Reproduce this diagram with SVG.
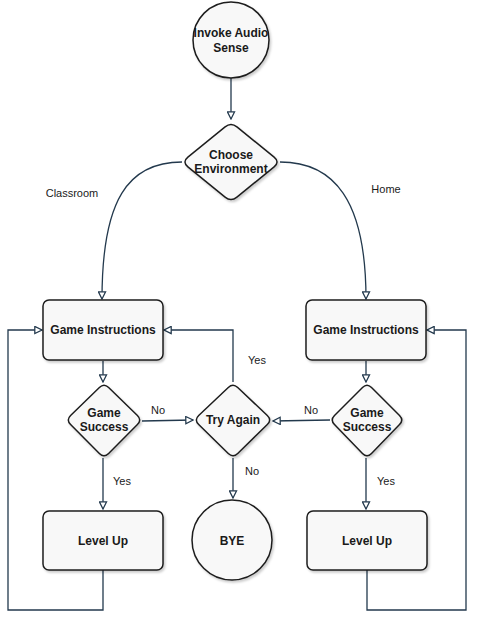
<svg xmlns="http://www.w3.org/2000/svg" width="480" height="624" viewBox="0 0 480 624">
<defs>
<style>
.shape{fill:#f8f8f8;stroke:#1e1e1e;stroke-width:1.5;stroke-linejoin:round;filter:url(#sh)}
.t{font-family:"Liberation Sans",Arial,sans-serif;font-size:12px;font-weight:bold;fill:#1a1a1a;text-anchor:middle}
.lbl{font-family:"Liberation Sans",Arial,sans-serif;font-size:11px;fill:#1a1a1a;text-anchor:middle}
.c{fill:none;stroke:#23394d;stroke-width:1.3}
</style>
<filter id="sh" x="-20%" y="-20%" width="140%" height="140%">
<feDropShadow dx="1.5" dy="2" stdDeviation="1.2" flood-color="#000" flood-opacity="0.2"/>
</filter>
<marker id="ar" viewBox="0 0 10 10" refX="9" refY="5" markerWidth="9" markerHeight="9" markerUnits="userSpaceOnUse" orient="auto">
<path d="M1,1 L9,5 L1,9 Z" fill="#fff" stroke="#23394d" stroke-width="1.4"/>
</marker>
</defs>
<rect width="480" height="624" fill="#fff"/>

<g id="connectors">
<path class="c" d="M231,78 L231,119" marker-end="url(#ar)"/>
<path class="c" d="M182,162 C128,162 102,200 102,299" marker-end="url(#ar)"/>
<path class="c" d="M280,162 C334,162 366,200 366,299" marker-end="url(#ar)"/>
<path class="c" d="M103,361 L103,382" marker-end="url(#ar)"/>
<path class="c" d="M366,361 L366,382" marker-end="url(#ar)"/>
<path class="c" d="M142,421 L193,420" marker-end="url(#ar)"/>
<path class="c" d="M330,420 L273,421" marker-end="url(#ar)"/>
<path class="c" d="M233,382 L233,330 L164,330" marker-end="url(#ar)"/>
<path class="c" d="M233,458 L233,498" marker-end="url(#ar)"/>
<path class="c" d="M103,458 L103,509" marker-end="url(#ar)"/>
<path class="c" d="M366,458 L366,509" marker-end="url(#ar)"/>
<path class="c" d="M103,570 L103,610 L8,610 L8,330 L42,330" marker-end="url(#ar)"/>
<path class="c" d="M367,570 L367,610 L466,610 L466,330 L427,330" marker-end="url(#ar)"/>
</g>

<g id="labels">
<text class="lbl" x="72" y="197">Classroom</text>
<text class="lbl" x="386" y="193">Home</text>
<text class="lbl" x="158" y="414">No</text>
<text class="lbl" x="311" y="414">No</text>
<text class="lbl" x="257" y="364">Yes</text>
<text class="lbl" x="252" y="475">No</text>
<text class="lbl" x="122" y="485">Yes</text>
<text class="lbl" x="386" y="485">Yes</text>
</g>

<g id="invoke">
<circle class="shape" cx="231" cy="40" r="38"/>
<text class="t" x="231" y="37">Invoke Audio</text>
<text class="t" x="231" y="52">Sense</text>
</g>
<g id="choose">
<path class="shape" d="M236.9,126.8 L274.1,157.2 Q280,162 274.1,166.8 L236.9,197.2 Q231,202 225.1,197.2 L187.9,166.8 Q182,162 187.9,157.2 L225.1,126.8 Q231,122 236.9,126.8 Z"/>
<text class="t" x="231" y="159">Choose</text>
<text class="t" x="231" y="173">Environment</text>
</g>
<g id="gi-left">
<rect class="shape" x="43" y="300" width="120" height="60" rx="6"/>
<text class="t" x="103" y="334">Game Instructions</text>
</g>
<g id="gi-right">
<rect class="shape" x="306" y="300" width="120" height="60" rx="6"/>
<text class="t" x="366" y="334">Game Instructions</text>
</g>
<g id="gs-left">
<path class="shape" d="M108.6,387.5 L137.4,415.5 Q142,420 137.4,424.5 L108.6,453.5 Q104,458 99.4,453.5 L70.6,424.5 Q66,420 70.6,415.5 L99.4,387.5 Q104,383 108.6,387.5 Z"/>
<text class="t" x="104" y="417">Game</text>
<text class="t" x="104" y="431">Success</text>
</g>
<g id="try-again">
<path class="shape" d="M237.7,387.5 L267.3,415.5 Q272,420 267.3,424.5 L237.7,453.5 Q233,458 228.3,453.5 L198.7,424.5 Q194,420 198.7,415.5 L228.3,387.5 Q233,383 237.7,387.5 Z"/>
<text class="t" x="233" y="424">Try Again</text>
</g>
<g id="gs-right">
<path class="shape" d="M371.5,387.5 L399.5,415.5 Q404,420 399.5,424.5 L371.5,453.5 Q367,458 362.5,453.5 L334.5,424.5 Q330,420 334.5,415.5 L362.5,387.5 Q367,383 371.5,387.5 Z"/>
<text class="t" x="367" y="417">Game</text>
<text class="t" x="367" y="431">Success</text>
</g>
<g id="lu-left">
<rect class="shape" x="43" y="511" width="120" height="59" rx="6"/>
<text class="t" x="103" y="545">Level Up</text>
</g>
<g id="bye">
<circle class="shape" cx="232" cy="540" r="40"/>
<text class="t" x="232" y="545">BYE</text>
</g>
<g id="lu-right">
<rect class="shape" x="307" y="511" width="120" height="59" rx="6"/>
<text class="t" x="367" y="545">Level Up</text>
</g>
</svg>
